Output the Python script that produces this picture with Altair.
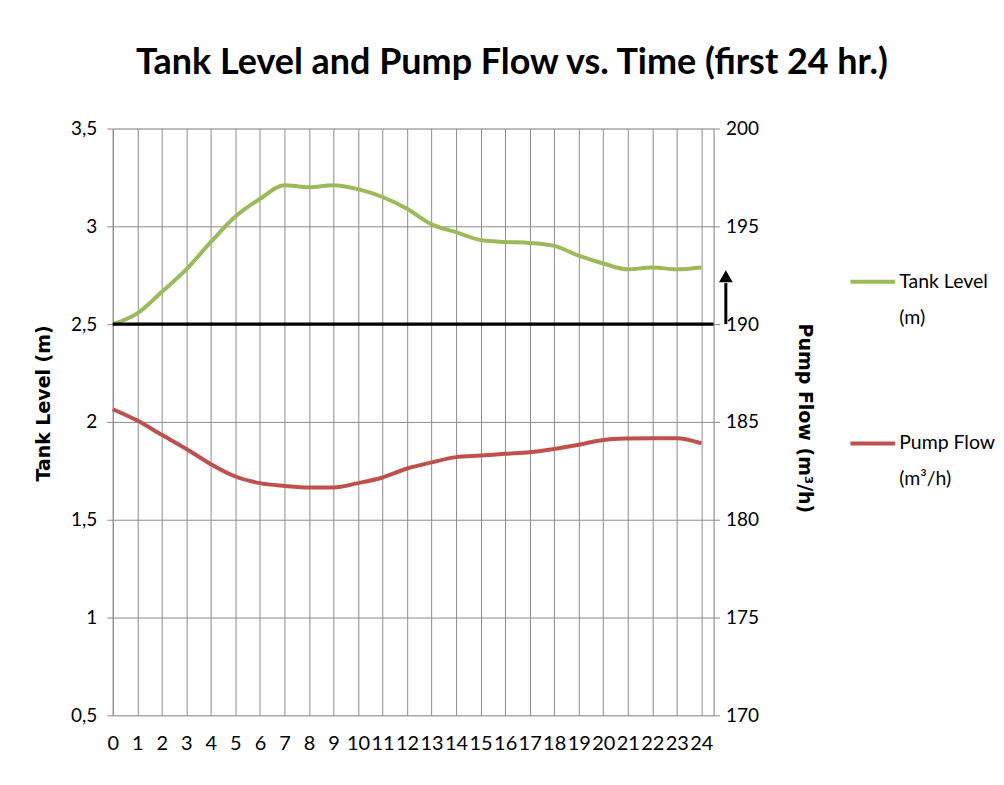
import altair as alt
import pandas as pd

# ---- data ----
hours = list(range(25))
tank_level = [2.50, 2.555, 2.665, 2.78, 2.92, 3.05, 3.14, 3.21, 3.20, 3.21, 3.19, 3.15,
              3.09, 3.01, 2.97, 2.93, 2.92, 2.915, 2.90, 2.85, 2.81, 2.78, 2.79, 2.78, 2.79]
pump_flow = [185.65, 185.07, 184.34, 183.62, 182.84, 182.21, 181.87, 181.73, 181.65, 181.65,
             181.87, 182.16, 182.62, 182.93, 183.20, 183.28, 183.37, 183.45, 183.62, 183.83,
             184.08, 184.15, 184.17, 184.17, 183.91]
series_names = ["Tank Level (m)", "Pump Flow (m³/h)"]
series_colors = ["#9BBB59", "#C0504D"]
left_ticks = [0.5, 1.0, 1.5, 2.0, 2.5, 3.0, 3.5]
right_ticks = [170, 175, 180, 185, 190, 195, 200]
x_domain = [0, 24.5]
baseline_level = [2.5]
arrow_hour = [25.0]
arrow_from = [2.5]
arrow_to = [2.71]
arrow_tip = [2.745]

FONT = "Lato"
TITLE_FONT = "DejaVu Sans"
GRID = "#8c8c8c"

tank_df = pd.DataFrame({"hour": hours, "value": tank_level, "series": series_names[0]})
pump_df = pd.DataFrame({"hour": hours, "value": pump_flow, "series": series_names[1]})
ref_df = pd.DataFrame({"hour": [x_domain[0]], "x1": [x_domain[1]], "value": baseline_level})
arrow_df = pd.DataFrame({"hour": arrow_hour, "value": arrow_from, "y1": arrow_to, "tip": arrow_tip})

x_scale = alt.Scale(domain=x_domain, nice=False, zero=False)
x_axis = alt.Axis(values=hours, grid=True, gridColor=GRID, ticks=False, domain=False,
                  labelPadding=18, labelFontSize=20, labelFont=FONT, labelColor="#000",
                  labelFlush=False, labelOverlap=False, labelBound=False, title=None)

color_enc = alt.Color(
    "series:N",
    scale=alt.Scale(domain=series_names, range=series_colors),
    legend=alt.Legend(
        orient="none", legendX=737, legendY=129, title=None,
        symbolType="stroke", symbolSize=2000, symbolStrokeWidth=4,
        labelFont=FONT, labelFontSize=19.5, labelColor="#000", labelOffset=2,
        labelBaseline="middle", rowPadding=92, labelLimit=200,
        labelExpr="datum.label == 'Tank Level (m)' ? ['Tank Level', '(m)'] : ['Pump Flow', '(m³/h)']",
    ),
)

left_scale = alt.Scale(domain=[0.5, 3.5], nice=False, zero=False)
right_scale = alt.Scale(domain=[170, 200], nice=False, zero=False)
left_axis = alt.Axis(values=left_ticks, grid=True, gridColor=GRID, domainColor=GRID,
                     tickColor=GRID, tickSize=6, labelPadding=10,
                     labelExpr="replace(format(datum.value, ''), '.', ',')",
                     labelFont=FONT, labelFontSize=19, labelColor="#000",
                     title="Tank Level (m)", titleFont=TITLE_FONT, titleFontSize=19,
                     titleFontWeight="bold", titleColor="#000", titlePadding=17,
                     titleY=275)

tank_line = alt.Chart(tank_df).mark_line(strokeWidth=4, interpolate="monotone").encode(
    x=alt.X("hour:Q", scale=x_scale, axis=x_axis),
    y=alt.Y("value:Q", scale=left_scale, axis=left_axis),
    color=color_enc,
)

ref_rule = alt.Chart(ref_df).mark_rule(color="black", strokeWidth=3.5).encode(
    x=alt.X("hour:Q", scale=x_scale, axis=x_axis), x2="x1:Q",
    y=alt.Y("value:Q", scale=left_scale, axis=left_axis),
)

arrow_shaft = alt.Chart(arrow_df).mark_rule(color="black", strokeWidth=3).encode(
    x=alt.X("hour:Q", scale=x_scale, axis=x_axis),
    y=alt.Y("value:Q", scale=left_scale, axis=left_axis), y2="y1:Q",
)
arrow_head = alt.Chart(arrow_df).mark_point(shape="triangle-up", filled=True, color="black",
                                            size=190, opacity=1).encode(
    x=alt.X("hour:Q", scale=x_scale, axis=x_axis),
    y=alt.Y("tip:Q", scale=left_scale, axis=left_axis),
)

left = alt.layer(tank_line, ref_rule, arrow_shaft, arrow_head)

pump_line = alt.Chart(pump_df).mark_line(strokeWidth=4, interpolate="monotone").encode(
    x=alt.X("hour:Q", scale=x_scale, axis=x_axis),
    y=alt.Y("value:Q", scale=right_scale,
            axis=alt.Axis(orient="right", values=right_ticks, grid=False, domainColor=GRID,
                          tickColor=GRID, tickSize=6, labelPadding=6,
                          labelFont=FONT, labelFontSize=19, labelColor="#000",
                          title="Pump Flow (m³/h)", titleFont=TITLE_FONT, titleFontSize=19,
                          titleFontWeight="bold", titleColor="#000", titlePadding=36,
                          titleY=290)),
    color=color_enc,
)

chart = alt.layer(left, pump_line).resolve_scale(y="independent").properties(
    width=602, height=588,
    autosize=alt.AutoSizeParams(type="none"),
    padding={"left": 105, "top": 120, "right": 283, "bottom": 50},
    title=alt.TitleParams(
        "Tank Level and Pump Flow vs. Time (first 24 hr.)",
        font=FONT, fontSize=36, fontWeight="bold", color="#000",
        anchor="middle", dx=99, offset=38,
    ),
).configure_view(stroke=None).configure(
    background="white", style={"guide-label": {"lineHeight": 36}}
)

chart.save("out.html", embed_options={"renderer": "svg", "actions": False})
